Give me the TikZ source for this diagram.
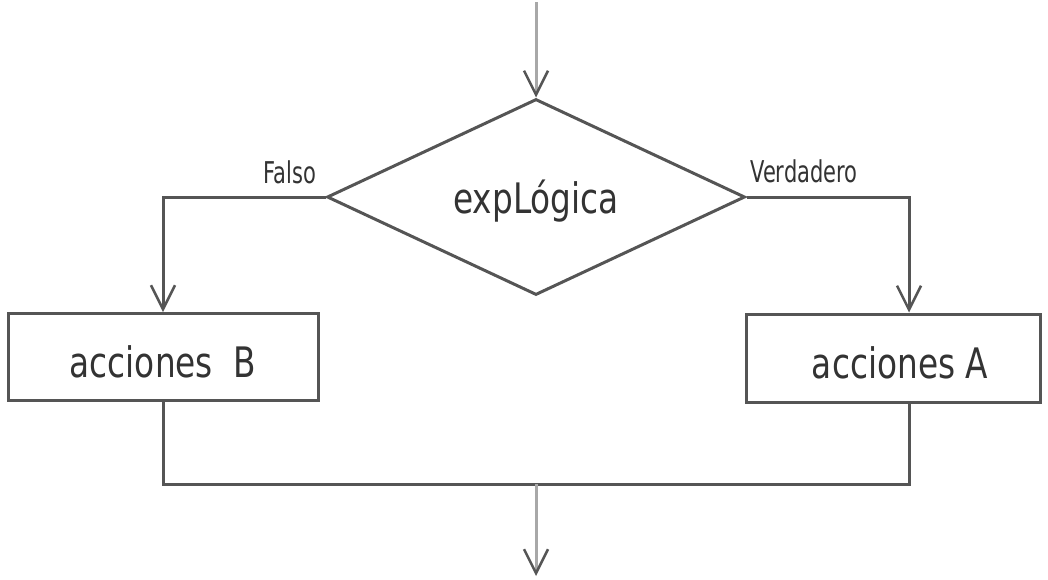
\documentclass[tikz,border=0pt]{standalone}
\usepackage{fontspec}
\setmainfont{DejaVu Sans}[FakeStretch=0.78]
\newfontfamily\labfont{DejaVu Sans}[FakeStretch=0.7]
\usetikzlibrary{arrows.meta,shapes.geometric}
\definecolor{lin}{HTML}{555555}
\definecolor{stem}{HTML}{A8A8A8}
\definecolor{txt}{HTML}{333333}
\tikzset{
  flow/.style={draw=lin, line width=3pt},
  arr/.style={flow, -{Straight Barb[length=24pt,width=24pt,line width=2.5pt,color=lin]}},
  stemarr/.style={draw=stem, line width=3pt, -{Straight Barb[length=24pt,width=24pt,line width=2.5pt,color=lin]}},
  boxnode/.style={draw=lin, line width=3pt, rectangle, inner sep=0pt, text=txt,
    font=\fontsize{42}{50}\selectfont, text height=40pt, text depth=0pt},
  decnode/.style={draw=lin, line width=3pt, diamond, aspect=2.13, inner sep=0pt,
    minimum width=418pt, minimum height=196pt, text=txt, font=\fontsize{42}{50}\selectfont,
    text height=44pt, text depth=12pt},
  lab/.style={text=txt, font=\labfont\fontsize{30}{36}\selectfont, anchor=base, inner sep=0pt}
}
\begin{document}
\begin{tikzpicture}[x=1pt,y=-1pt]
\useasboundingbox (0,0) rectangle (1048,579);
\node[decnode] (dec) at (536,197) {expLógica};
\node[boxnode, minimum width=310pt, minimum height=87pt] (B) at (163,357) {acciones\ \ B};
\node[boxnode, minimum width=294pt, minimum height=88pt] (A) at (893,358) {\hspace*{14pt}acciones A};
\coordinate (top) at (536,2);
\coordinate (join) at (536,484);
\coordinate (bot) at (536,576);
\draw[stemarr] (top) -- (dec.north);
\draw[arr] (dec.west) -| (B.north);
\draw[arr] (dec.east) -| ([xshift=16pt]A.north);
\draw[flow] (B.south) -- (B.south |- join) -- ([xshift=16pt]A.south |- join) -- ([xshift=16pt]A.south);
\draw[stemarr] (join) -- (bot);
\node[lab] (falso) at (290,183) {Falso};
\node[lab] (verd) at (804,182) {Verdadero};
\end{tikzpicture}
\end{document}
